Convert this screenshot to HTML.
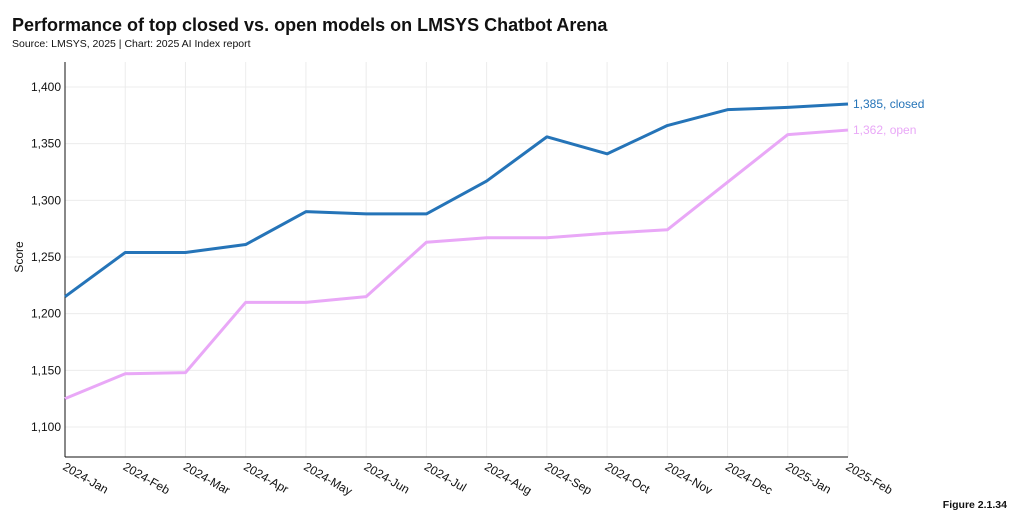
<!DOCTYPE html>
<html><head><meta charset="utf-8"><style>
body{margin:0;background:#fff;width:1017px;height:526px;overflow:hidden;font-family:"Liberation Sans",sans-serif}
</style></head><body>
<svg width="1017" height="526" xmlns="http://www.w3.org/2000/svg">
<text x="12" y="31" font-size="18" font-weight="bold" fill="#111">Performance of top closed vs. open models on LMSYS Chatbot Arena</text>
<text x="12" y="47" font-size="10.5" fill="#111">Source: LMSYS, 2025 | Chart: 2025 AI Index report</text>
<text transform="translate(23,257) rotate(-90)" text-anchor="middle" font-size="12" fill="#111">Score</text>
<text x="1007" y="508" text-anchor="end" font-size="10.5" font-weight="bold" fill="#111">Figure 2.1.34</text>
<g id="grid"></g><g id="axes"></g><g id="series"></g>
</svg>
<script>
const months=["2024-Jan","2024-Feb","2024-Mar","2024-Apr","2024-May","2024-Jun","2024-Jul","2024-Aug","2024-Sep","2024-Oct","2024-Nov","2024-Dec","2025-Jan","2025-Feb"];
const closedScores=[1215,1254,1254,1261,1290,1288,1288,1317,1356,1341,1366,1380,1382,1385];
const openScores=[1125,1147,1148,1210,1210,1215,1263,1267,1267,1271,1274,1316,1358,1362];
const yTicks=[1100,1150,1200,1250,1300,1350,1400];
const NS="http://www.w3.org/2000/svg";
const x0=65,x1=848,yTop=62,yBot=457;
const xs=i=>x0+i*(x1-x0)/(months.length-1);
const ys=v=>427-(v-1100)*(340/300);
function el(t,a,p){const e=document.createElementNS(NS,t);for(const k in a)e.setAttribute(k,a[k]);p.appendChild(e);return e;}
const grid=document.getElementById('grid'),axes=document.getElementById('axes'),ser=document.getElementById('series');
yTicks.forEach(v=>{
 const l=el('line',{x1:x0,x2:x1,y1:ys(v),y2:ys(v),stroke:'#ececec','stroke-width':1},grid);
 
 
 const t=el('text',{x:x0-4,y:ys(v)+4,'text-anchor':'end','font-size':12,fill:'#111'},axes);
 t.textContent=v.toLocaleString('en-US');
 
 
});
months.forEach((m,i)=>{
 const l=el('line',{x1:xs(i),x2:xs(i),y1:yTop,y2:yBot,stroke:'#ececec','stroke-width':1},grid);
 
 
 const t=el('text',{transform:`translate(${xs(i)-3},${yBot+12}) rotate(30)`,'font-size':12,fill:'#111'},axes);
 t.textContent=m;
 
 
});
const ax=el('line',{x1:x0,x2:x0,y1:yTop,y2:yBot,stroke:'#111','stroke-width':1},axes);


const bx=el('line',{x1:x0,x2:x1,y1:yBot,y2:yBot,stroke:'#111','stroke-width':1},axes);


function draw(vals,color,name,label){
 const p=el('polyline',{points:vals.map((v,i)=>xs(i)+','+ys(v)).join(' '),fill:'none',stroke:color,'stroke-width':3,'stroke-linejoin':'round'},ser);
 
 
 const last=vals[vals.length-1];
 const t=el('text',{x:x1+5,y:ys(last)+4,'font-size':12,fill:color},ser);
 t.textContent=last.toLocaleString('en-US')+', '+label;
 
 
}
draw(openScores,'#e9a8f7','open','open');
draw(closedScores,'#2574b8','closed','closed');
</script>
</body></html>
